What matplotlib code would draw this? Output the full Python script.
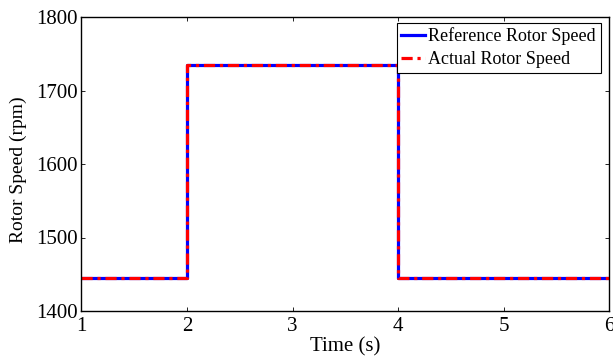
import matplotlib
matplotlib.use('Agg')
import matplotlib.pyplot as plt
import numpy as np

# step profile
t_steps = [1, 2, 4, 6]
speed_ref = [1445, 1735, 1445, 1445]
speed_act = [1445, 1735, 1445, 1445]

plt.rcParams['font.family'] = ['Liberation Serif', 'DejaVu Serif']
plt.rcParams['mathtext.fontset'] = 'stix'

fig = plt.figure(figsize=(6.13, 3.59), dpi=100)
ax = fig.add_axes([81.5 / 613, 1 - 311 / 359, (609 - 81.5) / 613, (311 - 17) / 359])

ax.step(t_steps, speed_ref, where='post', color='#0000ff', lw=2.3, label='Reference Rotor Speed')
ax.step(t_steps, speed_act, where='post', color='#ff0000', lw=2.3, ls=(0, (3.5, 1.5, 1, 1.5)),
        label='Actual Rotor Speed')

ax.set_xlim(1, 6)
ax.set_ylim(1400, 1800)
ax.set_xticks([1, 2, 3, 4, 5, 6])
ax.set_yticks([1400, 1500, 1600, 1700, 1800])
ax.tick_params(direction='in', top=True, right=True, labelsize=15, length=3, width=0.6)
ax.tick_params(axis='x', pad=4)
ax.tick_params(axis='y', pad=3)
for s in ax.spines.values():
    s.set_linewidth(1.0)

ax.set_xlabel('Time (s)', fontsize=15, labelpad=1)
ax.set_ylabel('Rotor Speed (rpm)', fontsize=14)
ax.yaxis.set_label_coords(-0.104, 0.48)

leg = ax.legend(loc='upper right', bbox_to_anchor=(0.984, 0.981), fontsize=13, fancybox=False,
                framealpha=1, edgecolor='black', borderpad=0.25, handlelength=1.3,
                handletextpad=0.2, labelspacing=0.36, borderaxespad=0)
leg.get_frame().set_linewidth(0.8)

fig.savefig('out.png', dpi=100)
